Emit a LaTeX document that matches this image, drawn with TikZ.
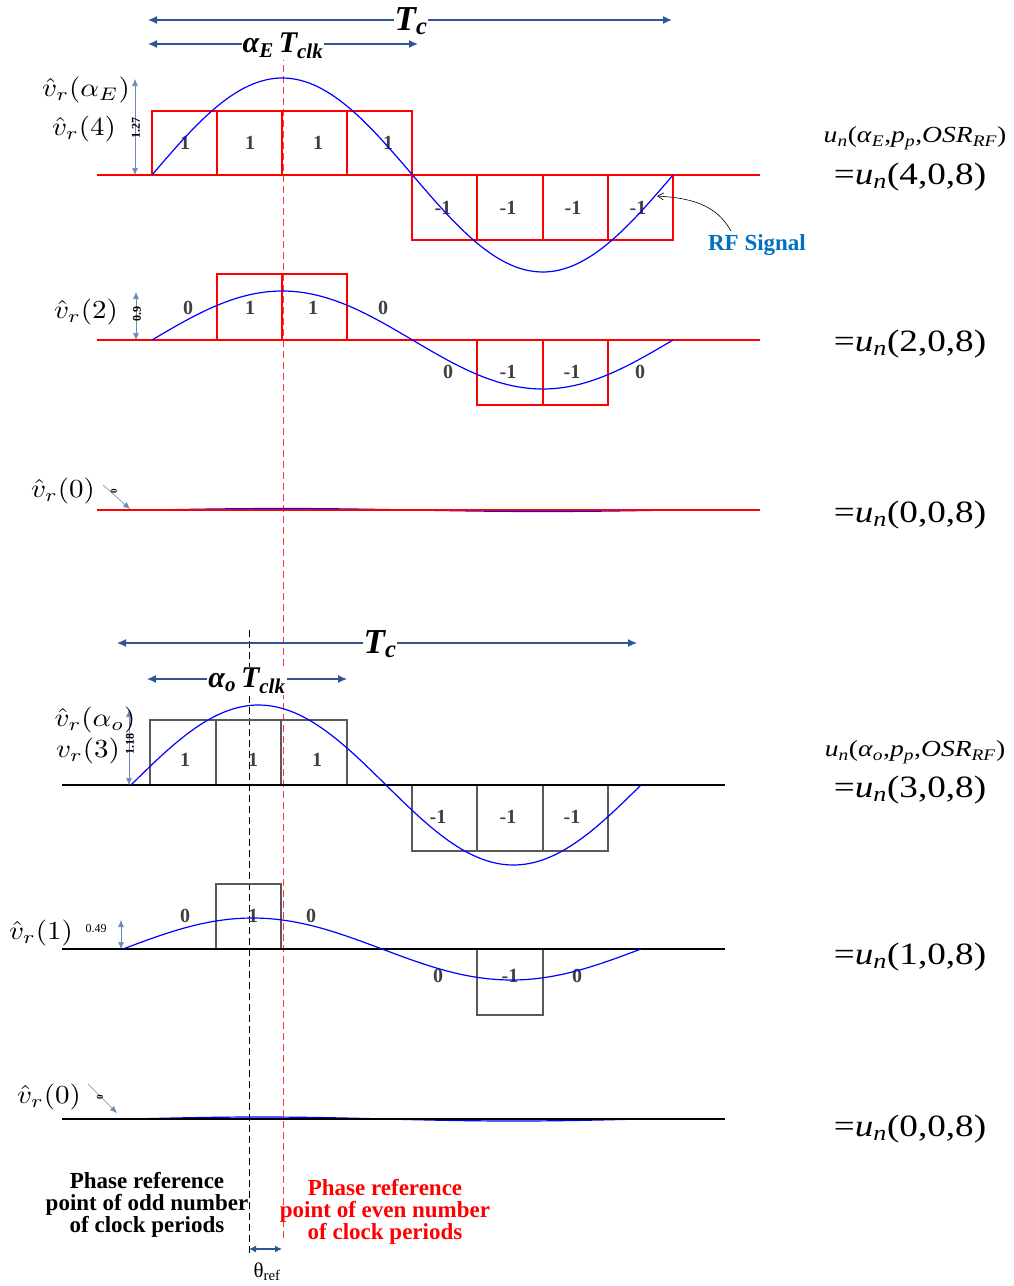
\documentclass[tikz,border=0pt]{standalone}
\usepackage{fontspec}
\setmainfont{Liberation Serif}
\usetikzlibrary{arrows.meta}
\definecolor{dimblue}{HTML}{2F5597}
\definecolor{boxgray}{HTML}{595959}
\definecolor{numgray}{HTML}{404040}
\definecolor{rfblue}{HTML}{0070C0}
\newcommand\mlab[1]{\scalebox{2.9}[2.6]{$#1$}}
\newcommand\wideeq[1]{\scalebox{1.2}[1]{#1}}
\begin{document}
\begin{tikzpicture}[x=1pt,y=-1pt,
  wave/.style={blue, line width=1.2pt},
  redbox/.style={draw=red, line width=2pt},
  graybox/.style={draw=boxgray, line width=1.8pt},
  redbase/.style={red, line width=2.2pt},
  blackbase/.style={black, line width=2.2pt},
  dimarrow/.style={dimblue, line width=1.3pt, {Latex[length=9pt,width=8pt]}-{Latex[length=9pt,width=8pt]}},
  smallarrow/.style={dimblue!70, line width=0.6pt, {Latex[length=7pt,width=6pt]}-{Latex[length=7pt,width=6pt]}},
  onearrow/.style={dimblue!70, line width=0.6pt, -{Latex[length=7pt,width=6pt]}},
  num/.style={text=numgray, font=\fontsize{20}{21}\selectfont\bfseries},
  mlbl/.style={font=\fontsize{10}{12}\selectfont, inner sep=0pt},
  rot/.style={font=\fontsize{12}{12}\selectfont\bfseries, rotate=90, inner sep=0pt},
  eqn/.style={font=\fontsize{31}{32}\selectfont, inner sep=0pt},
  eqs/.style={font=\fontsize{23}{24}\selectfont, inner sep=0pt},
  bigl/.style={font=\fontsize{35}{36}\selectfont\bfseries\itshape, fill=white, inner sep=1pt},
  midl/.style={font=\fontsize{30}{32}\selectfont\bfseries\itshape, fill=white, inner sep=1pt},
  note/.style={font=\fontsize{23}{22}\selectfont\bfseries, align=center, inner sep=0pt}
]
\useasboundingbox (0,0) rectangle (1013,1286);

% ---------------- phase reference lines
\coordinate (redT) at (283,32); \coordinate (redB) at (283,1242);
\coordinate (blkT) at (249,630); \coordinate (blkB) at (249,1256);
\draw[red!80, dashed, line width=0.9pt, dash pattern=on 7pt off 4pt] (redT) -- (redB);
\draw[black, dashed, line width=0.9pt, dash pattern=on 7pt off 4pt] (blkT) -- (blkB);

% ---------------- top section
\coordinate (tcL) at (148,20); \coordinate (tcR) at (672,20);
\draw[dimarrow] (tcL) -- (tcR);
\node[bigl] (tcTop) at (411,21) {T\textsubscript{c}};
\coordinate (aeL) at (148,44); \coordinate (aeR) at (418,44);
\draw[dimarrow] (aeL) -- (aeR);
\node[midl] (aeT) at (283,46) {α\textsubscript{E}\,T\textsubscript{clk}};

% row 1
\draw[redbox] (152,111) rectangle (217,175) (217,111) rectangle (282,175) (282,111) rectangle (347,175) (347,111) rectangle (412,175);
\draw[redbox] (412,175) rectangle (477,240) (477,175) rectangle (543,240) (543,175) rectangle (608,240) (608,175) rectangle (673,240);
\coordinate (b1L) at (97,175); \coordinate (b1R) at (760,175);
\draw[redbase] (b1L) -- (b1R);
\node[num] (n11) at (185,143) {1};
\node[num] (n12) at (250,143) {1};
\node[num] (n13) at (318,143) {1};
\node[num] (n14) at (388,143) {1};
\node[num] (n15) at (443,208) {-1};
\node[num] (n16) at (508,208) {-1};
\node[num] (n17) at (573,208) {-1};
\node[num] (n18) at (638,208) {-1};
\draw[wave] plot[domain=152:673, samples=120] (\x, {175 - 97*sin((\x-152)/521*360)});
\coordinate (a1T) at (135,79); \coordinate (a1B) at (135,175);
\draw[smallarrow] (a1T) -- (a1B);
\node[rot] (v127) at (136,128) {1.27};
\node[mlbl] (vae) at (86,90) {\mlab{\hat{v}_r(\alpha_E)}};
\node[mlbl] (v4) at (84,129) {\mlab{\hat{v}_r(4)}};
\node[eqs] (uE) at (915,138) {\wideeq{\textit{u}\textsubscript{\textit{n}}(\textit{α}\textsubscript{\textit{E}},\textit{p}\textsubscript{\textit{p}},\textit{OSR}\textsubscript{\textit{RF}})}};
\node[eqn] (u408) at (910,177) {\wideeq{=\textit{u}\textsubscript{\textit{n}}(4,0,8)}};
\node[font=\fontsize{23}{24}\selectfont\bfseries, text=rfblue, inner sep=0pt] (rf) at (757,245) {RF Signal};
\coordinate (rfTip) at (657,196); \coordinate (rfTail) at (731,231);
\draw[black, line width=0.6pt, -{Straight Barb[length=6pt,width=7pt]}] (rfTail) .. controls (716,204) and (690,198) .. (rfTip);

% row 2
\draw[redbox] (217,274) rectangle (282,340) (282,274) rectangle (347,340);
\draw[redbox] (477,340) rectangle (543,405) (543,340) rectangle (608,405);
\coordinate (b2L) at (97,340); \coordinate (b2R) at (760,340);
\draw[redbase] (b2L) -- (b2R);
\node[num] (n21) at (188,308) {0};
\node[num] (n22) at (250,308) {1};
\node[num] (n23) at (313,308) {1};
\node[num] (n24) at (383,308) {0};
\node[num] (n25) at (448,372) {0};
\node[num] (n26) at (508,372) {-1};
\node[num] (n27) at (572,372) {-1};
\node[num] (n28) at (640,372) {0};
\draw[wave] plot[domain=152:673, samples=120] (\x, {340 - 49*sin((\x-152)/521*360)});
\coordinate (a2T) at (136,292); \coordinate (a2B) at (136,340);
\draw[smallarrow] (a2T) -- (a2B);
\node[rot] (v09) at (137,314) {0.9};
\node[mlbl] (v2) at (86,312) {\mlab{\hat{v}_r(2)}};
\node[eqn] (u208) at (910,344) {\wideeq{=\textit{u}\textsubscript{\textit{n}}(2,0,8)}};

% row 3
\draw[wave] plot[domain=152:673, samples=60] (\x, {510 - 1.5*sin((\x-152)/521*360)});
\coordinate (b3L) at (97,510); \coordinate (b3R) at (760,510);
\draw[redbase] (b3L) -- (b3R);
\node[mlbl] (v0a) at (63,491) {\mlab{\hat{v}_r(0)}};
\coordinate (z1T) at (103,485); \coordinate (z1B) at (130,509);
\draw[onearrow] (z1T) -- (z1B);
\node[rot, font=\fontsize{9}{9}\selectfont\bfseries] (z1) at (114,491) {0};
\node[eqn] (u008a) at (910,515) {\wideeq{=\textit{u}\textsubscript{\textit{n}}(0,0,8)}};

% ---------------- bottom section
\coordinate (tc2L) at (117,643); \coordinate (tc2R) at (637,643);
\draw[dimarrow] (tc2L) -- (tc2R);
\node[bigl] (tcBot) at (380,644) {T\textsubscript{c}};
\coordinate (aoL) at (147,679); \coordinate (aoR) at (347,679);
\draw[dimarrow] (aoL) -- (aoR);
\node[midl] (aoT) at (247,681) {α\textsubscript{o}\,T\textsubscript{clk}};

% row 4
\draw[graybox] (150,720) rectangle (216,785) (216,720) rectangle (281,785) (281,720) rectangle (347,785);
\draw[graybox] (412,785) rectangle (477,851) (477,785) rectangle (543,851) (543,785) rectangle (608,851);
\coordinate (b4L) at (62,785); \coordinate (b4R) at (725,785);
\draw[blackbase] (b4L) -- (b4R);
\node[num] (n41) at (185,760) {1};
\node[num] (n42) at (253,760) {1};
\node[num] (n43) at (317,760) {1};
\node[num] (n44) at (438,817) {-1};
\node[num] (n45) at (508,817) {-1};
\node[num] (n46) at (572,817) {-1};
\draw[wave] plot[domain=131:641, samples=120] (\x, {785 - 80*sin((\x-131)/510*360)});
\coordinate (a4T) at (129,710); \coordinate (a4B) at (129,785);
\draw[smallarrow] (a4T) -- (a4B);
\node[rot] (v118) at (130,744) {1.18};
\node[mlbl] (vao) at (95,720) {\mlab{\hat{v}_r(\alpha_o)}};
\node[mlbl] (v3) at (88,751) {\mlab{v_r(3)}};
\node[eqs] (uo) at (915,752) {\wideeq{\textit{u}\textsubscript{\textit{n}}(\textit{α}\textsubscript{\textit{o}},\textit{p}\textsubscript{\textit{p}},\textit{OSR}\textsubscript{\textit{RF}})}};
\node[eqn] (u308) at (910,790) {\wideeq{=\textit{u}\textsubscript{\textit{n}}(3,0,8)}};

% row 5
\draw[graybox] (216,884) rectangle (281,949);
\draw[graybox] (477,949) rectangle (543,1015);
\coordinate (b5L) at (62,949); \coordinate (b5R) at (725,949);
\draw[blackbase] (b5L) -- (b5R);
\node[num] (n51) at (185,916) {0};
\node[num] (n52) at (253,916) {1};
\node[num] (n53) at (311,916) {0};
\node[num] (n54) at (438,976) {0};
\node[num] (n55) at (510,976) {-1};
\node[num] (n56) at (577,976) {0};
\draw[wave] plot[domain=123:641, samples=120] (\x, {949 - 31*sin((\x-123)/518*360)});
\coordinate (a5T) at (121,920); \coordinate (a5B) at (121,949);
\draw[smallarrow] (a5T) -- (a5B);
\node[font=\fontsize{12}{12}\selectfont, inner sep=0pt] (v049) at (96,929) {0.49};
\node[mlbl] (v1) at (41,933) {\mlab{\hat{v}_r(1)}};
\node[eqn] (u108) at (910,957) {\wideeq{=\textit{u}\textsubscript{\textit{n}}(1,0,8)}};

% row 6
\draw[wave] plot[domain=132:641, samples=60] (\x, {1119 - 2*sin((\x-132)/509*360)});
\coordinate (b6L) at (62,1119); \coordinate (b6R) at (725,1119);
\draw[blackbase] (b6L) -- (b6R);
\node[mlbl] (v0b) at (49,1097) {\mlab{\hat{v}_r(0)}};
\coordinate (z2T) at (88,1084); \coordinate (z2B) at (117,1113);
\draw[onearrow] (z2T) -- (z2B);
\node[rot, font=\fontsize{9}{9}\selectfont\bfseries] (z2) at (100,1097) {0};
\node[eqn] (u008b) at (910,1129) {\wideeq{=\textit{u}\textsubscript{\textit{n}}(0,0,8)}};

% ---------------- notes
\node[note] (odd) at (147,1205) {Phase reference\\point of odd number\\of clock periods};
\node[note, text=red] (even) at (385,1212) {Phase reference\\point of even number\\of clock periods};
\coordinate (thL) at (249,1249); \coordinate (thR) at (282,1249);
\draw[dimarrow, line width=1.2pt, {Latex[length=7pt,width=7pt]}-{Latex[length=7pt,width=7pt]}] (thL) -- (thR);
\node[font=\fontsize{21}{22}\selectfont, inner sep=0pt] (theta) at (267,1272) {θ\textsubscript{ref}};
\end{tikzpicture}
\end{document}
